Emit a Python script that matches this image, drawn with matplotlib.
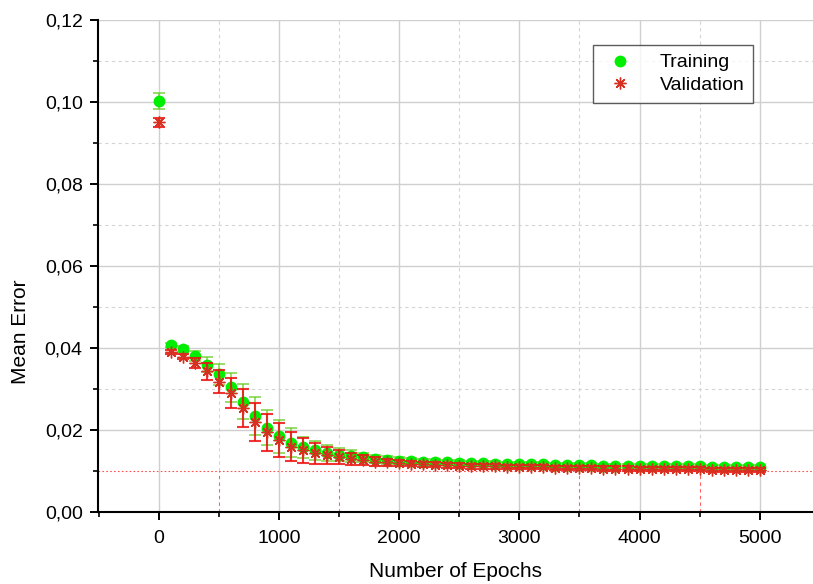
import numpy as np
import matplotlib.pyplot as plt
from matplotlib.ticker import MultipleLocator, FuncFormatter

plt.rcParams['font.family'] = ['Liberation Sans', 'DejaVu Sans']

# epochs sampled every 100
epochs = list(range(0, 5001, 100))

train_err = [0.1003, 0.0407, 0.0397, 0.0380, 0.0359, 0.0336, 0.0304, 0.0269, 0.0234, 0.0206,
             0.0185, 0.0169, 0.0158, 0.0150, 0.0144, 0.0140, 0.0136, 0.0133, 0.0130, 0.0127,
             0.0125, 0.0124, 0.0123, 0.0122, 0.0121, 0.0120, 0.0119, 0.0119, 0.0118, 0.0117,
             0.0117, 0.0116, 0.0116, 0.0115, 0.0115, 0.0114, 0.0114, 0.0113, 0.0113, 0.0113,
             0.0112, 0.0112, 0.0112, 0.0111, 0.0111, 0.0111, 0.0110, 0.0110, 0.0110, 0.0110,
             0.0109]
train_sd = [0.0020, 0.0005, 0.0007, 0.0012, 0.0018, 0.0026, 0.0035, 0.0042, 0.0046, 0.0042,
            0.0040, 0.0036, 0.0026, 0.0022, 0.0019, 0.0016, 0.0014, 0.0012, 0.0010, 0.0009,
            0.0008, 0.0007, 0.0007, 0.0007, 0.0006, 0.0006, 0.0006, 0.0006, 0.0006, 0.0006,
            0.0006, 0.0005, 0.0005, 0.0005, 0.0005, 0.0005, 0.0005, 0.0005, 0.0005, 0.0005,
            0.0005, 0.0005, 0.0005, 0.0005, 0.0005, 0.0005, 0.0005, 0.0005, 0.0005, 0.0005,
            0.0005]

val_err = [0.0950, 0.0391, 0.0379, 0.0363, 0.0343, 0.0318, 0.0290, 0.0254, 0.0220, 0.0194,
           0.0175, 0.0159, 0.0150, 0.0143, 0.0138, 0.0133, 0.0130, 0.0126, 0.0123, 0.0121,
           0.0119, 0.0118, 0.0116, 0.0115, 0.0114, 0.0113, 0.0112, 0.0112, 0.0111, 0.0110,
           0.0110, 0.0109, 0.0109, 0.0108, 0.0108, 0.0107, 0.0107, 0.0106, 0.0106, 0.0106,
           0.0105, 0.0105, 0.0105, 0.0104, 0.0104, 0.0104, 0.0103, 0.0103, 0.0103, 0.0102,
           0.0102]
val_sd = [0.0010, 0.0005, 0.0007, 0.0013, 0.0020, 0.0029, 0.0037, 0.0046, 0.0047, 0.0046,
          0.0041, 0.0035, 0.0030, 0.0025, 0.0021, 0.0017, 0.0015, 0.0012, 0.0010, 0.0008,
          0.0007, 0.0007, 0.0006, 0.0006, 0.0006, 0.0006, 0.0006, 0.0006, 0.0005, 0.0005,
          0.0005, 0.0005, 0.0005, 0.0005, 0.0005, 0.0005, 0.0005, 0.0005, 0.0005, 0.0005,
          0.0005, 0.0005, 0.0005, 0.0005, 0.0005, 0.0005, 0.0005, 0.0005, 0.0005, 0.0005,
          0.0005]

fig = plt.figure(figsize=(8.13, 5.84), dpi=100)
ax = fig.add_axes([0.1205, 0.1233, 0.8795, 0.8425])

ax.set_xlim(-505, 5443)
ax.set_ylim(0, 0.12)
ax.xaxis.set_major_locator(MultipleLocator(1000))
ax.xaxis.set_minor_locator(MultipleLocator(500))
ax.yaxis.set_major_locator(MultipleLocator(0.02))
ax.yaxis.set_minor_locator(MultipleLocator(0.01))
ax.yaxis.set_major_formatter(FuncFormatter(lambda v, p: f"{v:.2f}".replace('.', ',')))

# grid: solid major, dashed minor (red reference line at 0.01)
ax.grid(which='major', color='#cfcfcf', linewidth=1.0, zorder=0)
xminor = [v for v in ax.get_xticks(minor=True) if -500 < v < 5443 and v % 1000 != 0]
yminor = [v for v in ax.get_yticks(minor=True) if 0 < v < 0.12 and round(v / 0.01) % 2 == 1]
ax.vlines(xminor, 0.01, 0.12, colors='#d4d4d4', linestyles=(0, (3, 3)), linewidth=0.8, zorder=0)
ax.vlines(xminor, 0, 0.01, colors='#ff6060', linestyles=(0, (3, 3)), linewidth=0.8, zorder=0)
for v in yminor:
    if abs(v - 0.01) < 1e-6:
        ax.axhline(v, color='#ff5050', linestyle=(0, (1.5, 2)), linewidth=0.8, zorder=0)
    else:
        ax.axhline(v, color='#d4d4d4', linestyle=(0, (3, 3)), linewidth=0.8, zorder=0)

ax.errorbar(epochs, train_err, yerr=train_sd, fmt='none', ecolor='#66cc22',
            elinewidth=1.2, capsize=4.5, capthick=1.2, alpha=0.8, zorder=2)
ax.plot(epochs, train_err, 'o', color='#00ee00', markersize=8.5,
        markeredgewidth=0, label='Training', zorder=3)
ax.errorbar(epochs, val_err, yerr=val_sd, fmt='none', ecolor='#ee1111',
            elinewidth=1.5, capsize=4.5, capthick=1.5, alpha=0.85, zorder=4)
ax.plot(epochs, val_err, marker=(8, 2, 0), linestyle='none', color='#d83020',
        markersize=8.5, markeredgewidth=1.0, label='Validation', zorder=5)

for s in ['top', 'right']:
    ax.spines[s].set_visible(False)
for s in ['left', 'bottom']:
    ax.spines[s].set_linewidth(1.5)
ax.tick_params(which='major', direction='out', length=6, width=1.4, labelsize=14)
ax.tick_params(axis='y', which='major', pad=5)
ax.tick_params(axis='x', which='major', pad=7)
ax.tick_params(which='minor', direction='out', length=3.5, width=1.2)

ax.set_xlabel('Number of Epochs', fontsize=15, labelpad=11)
ax.set_ylabel('Mean Error', fontsize=15)
ax.yaxis.set_label_coords(-0.095, 0.366)

leg = ax.legend(loc='upper left', bbox_to_anchor=(0.692, 0.949), borderaxespad=0,
                fontsize=14, frameon=True, fancybox=False, edgecolor='#333333',
                handletextpad=1.1, borderpad=0.45, labelspacing=0.25, handlelength=1.9)
leg.get_frame().set_linewidth(1.0)

fig.savefig('out.png', dpi=100)
